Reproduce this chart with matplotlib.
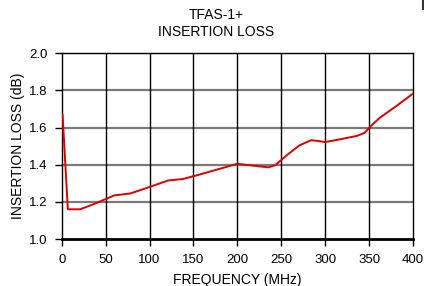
import matplotlib
matplotlib.use("Agg")
import matplotlib.pyplot as plt
from matplotlib.lines import Line2D

freq = [1, 7, 21, 35, 50, 60, 78, 100, 121, 138, 153, 180, 200, 218, 235, 243,
        256, 271, 284, 292, 300, 317, 336, 345, 353, 362, 381, 400]
loss = [1.67, 1.16, 1.16, 1.185, 1.215, 1.235, 1.245, 1.28, 1.315, 1.323, 1.342, 1.378, 1.405, 1.395, 1.386, 1.397,
        1.45, 1.505, 1.532, 1.528, 1.522, 1.537, 1.555, 1.572, 1.613, 1.652, 1.716, 1.783]
xticks = [0, 50, 100, 150, 200, 250, 300, 350, 400]
yticks = [1.0, 1.2, 1.4, 1.6, 1.8, 2.0]
title_lines = ['TFAS-1+', 'INSERTION LOSS']

plt.rcParams['font.family'] = ['Liberation Sans', 'DejaVu Sans']

fig = plt.figure(figsize=(4.24, 2.86), dpi=100)
ax = fig.add_axes([0.1455, 0.1643, 0.8285, 0.6493])

for y in yticks[1:-1]:
    ax.axhline(y, color='#7a7a7a', lw=1.6, zorder=1)
for x in xticks[1:-1]:
    ax.axvline(x, color='black', lw=1.0, zorder=1)

ax.plot(freq, loss, color='#e00000', lw=1.4, zorder=3)

ax.set_xlim(0, 400)
ax.set_ylim(1.0, 2.0)
ax.set_xticks(xticks)
ax.set_yticks(yticks)
ax.set_yticklabels([f"{v:.1f}" for v in yticks])
ax.tick_params(axis='both', direction='out', length=5, width=1, labelsize=9.5, colors='black', pad=5)
ax.tick_params(axis='x', pad=6)

for s in ['top', 'left', 'right']:
    ax.spines[s].set_linewidth(1.0)
ax.spines['bottom'].set_linewidth(2.0)

ax.set_xlabel('FREQUENCY (MHz)', fontsize=10, labelpad=5)
ax.set_ylabel('INSERTION LOSS (dB)', fontsize=10, labelpad=3)

fig.text(0.509, 0.9476, title_lines[0], fontsize=10, ha='center', va='center')
fig.text(0.509, 0.888, title_lines[1], fontsize=10, ha='center', va='center')

fig.add_artist(Line2D([0.9965, 0.9965], [0.97, 1.0], color='#333333', lw=1.5, transform=fig.transFigure))

fig.savefig('out.png', dpi=100)
